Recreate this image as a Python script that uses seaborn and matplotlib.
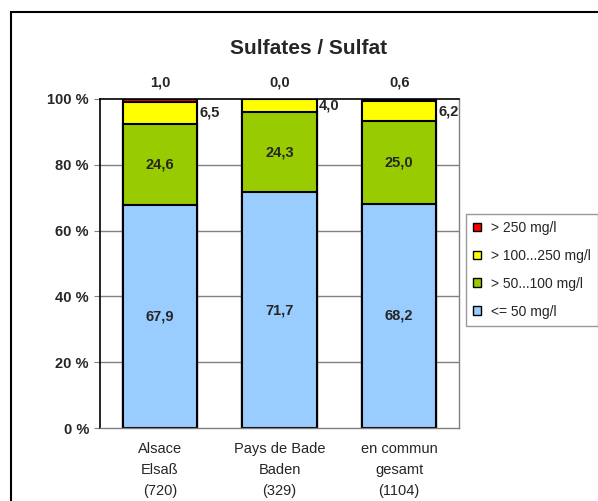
import seaborn as sns
import pandas as pd
import numpy as np
import matplotlib.pyplot as plt
from matplotlib.patches import Patch, Rectangle

# données
regions = ['Alsace\nElsaß\n(720)', 'Pays de Bade\nBaden\n(329)', 'en commun\ngesamt\n(1104)']
le50 = [67.9, 71.7, 68.2]
s50_100 = [24.6, 24.3, 25.0]
s100_250 = [6.5, 4.0, 6.2]
gt250 = [1.0, 0.0, 0.6]
series_names = ['> 250 mg/l', '> 100...250 mg/l', '> 50...100 mg/l', '<= 50 mg/l']
colors = ['#FF0000', '#FFFF00', '#99CC00', '#99CCFF']
yticks = [0, 20, 40, 60, 80, 100]
ytick_labels = ['0 %', '20 %', '40 %', '60 %', '80 %', '100 %']

sns.set_style('white')
plt.rcParams['font.family'] = ['Liberation Sans', 'DejaVu Sans']

df = pd.DataFrame({'region': regions, 'le50': le50, 's50': s50_100,
                   's100': s100_250, 'gt250': gt250})
df['c1'] = df['le50']
df['c2'] = df['c1'] + df['s50']
df['c3'] = df['c2'] + df['s100']
df['c4'] = df['c3'] + df['gt250']

fig = plt.figure(figsize=(5.98, 5.01), dpi=100)
ax = fig.add_axes([100/598, 1-428/501, 359/598, 329/501])

# barres cumulées, de la plus haute à la plus basse
for col, c in zip(['c4', 'c3', 'c2', 'c1'], colors):
    sns.barplot(data=df, x='region', y=col, color=c, width=0.62, ax=ax,
                edgecolor='black', linewidth=1.5, saturation=1)

ax.set_ylim(0, 100)
ax.set_xlim(-0.5, 2.5)
ax.set_yticks(yticks)
ax.set_yticklabels(ytick_labels, fontsize=10.5, fontweight='bold')
ax.set_xlabel('')
ax.set_ylabel('')
ax.tick_params(axis='x', length=0, labelsize=10.5, pad=10)
for t in ax.get_xticklabels():
    t.set_linespacing(1.62)
ax.set_xticks([0.5, 1.5, 2.5], minor=True)
ax.tick_params(axis='x', which='minor', length=4, color='#808080', direction='out')
ax.tick_params(axis='y', length=4, color='#808080', direction='out', left=True, pad=4)
for y in [20, 40, 60, 80]:
    ax.axhline(y, color='#808080', lw=1, zorder=0)
ax.set_axisbelow(True)
for s in ['left', 'top']:
    ax.spines[s].set_color('black')
    ax.spines[s].set_linewidth(1.2)
for s in ['right', 'bottom']:
    ax.spines[s].set_color('#808080')
    ax.spines[s].set_linewidth(1)

# étiquettes
def fmt(v):
    return f'{v:.1f}'.replace('.', ',')

for i in range(len(regions)):
    ax.text(i, df['le50'][i] / 2, fmt(df['le50'][i]), ha='center', va='center',
            fontsize=10.5, fontweight='bold')
    ax.text(i, df['c1'][i] + df['s50'][i] / 2, fmt(df['s50'][i]), ha='center', va='center',
            fontsize=10.5, fontweight='bold')
    ax.text(i + 0.33, df['c2'][i] + df['s100'][i] / 2, fmt(df['s100'][i]), ha='left',
            va='center', fontsize=10.5, fontweight='bold')
    ax.text(i, 102.8, fmt(df['gt250'][i]), ha='center', va='bottom',
            fontsize=10.5, fontweight='bold', clip_on=False)

fig.text(309/598, 1-48/501, 'Sulfates / Sulfat', ha='center', va='center',
         fontsize=15, fontweight='bold')

# cadre extérieur
fig.patches.append(Rectangle((11/598, -0.1), 1.2, 0.1 + 1-12/501, transform=fig.transFigure,
                             fill=False, edgecolor='black', lw=1.5))

handles = [Patch(facecolor=c, edgecolor='black', label=n) for c, n in zip(colors, series_names)]
leg = fig.legend(handles=handles, loc='upper left', bbox_to_anchor=(466/598, 1-214/501),
                 fontsize=10, frameon=True, fancybox=False, handlelength=0.6, handleheight=0.6,
                 handletextpad=0.7, labelspacing=1.0, borderpad=0.5, borderaxespad=0)
leg.get_frame().set_edgecolor('#808080')
leg.get_frame().set_linewidth(1)

fig.savefig('out.png', dpi=100)
